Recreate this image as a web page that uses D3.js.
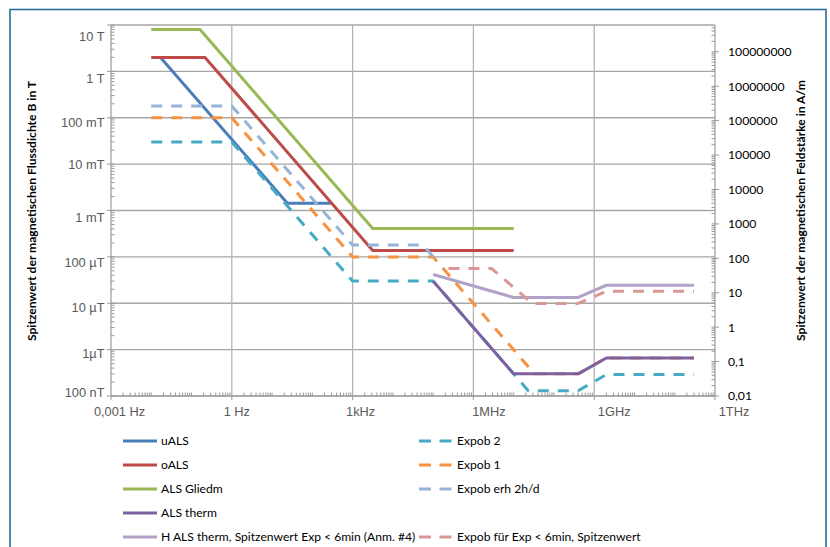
<!DOCTYPE html>
<html><head><meta charset="utf-8">
<script src="https://cdn.jsdelivr.net/npm/d3@7"></script>
<style>
html,body{margin:0;padding:0;background:#fff;}
svg{display:block;}
</style></head>
<body>
<svg id="c" width="830" height="547"></svg>
<script>
// ---------- DATA ----------
// frequencies in Hz, left-axis series in T, right-axis series in A/m
const uALS_f = [0.017, 24, 300];
const uALS_v = [2.0, 1.43e-3, 1.43e-3];
const oALS_f = [0.01, 0.216, 3160, 1e7];
const oALS_v = [2.0, 2.0, 1.37e-4, 1.37e-4];
const gliedm_f = [0.01, 0.162, 3160, 1e7];
const gliedm_v = [8.0, 8.0, 4.1e-4, 4.1e-4];
const therm_f = [1e5, 1e7, 4e8, 2e9, 3e11];
const therm_v = [3.0e-5, 3.0e-7, 3.0e-7, 6.6e-7, 6.6e-7];
const hTherm_f = [1e5, 1e7, 4e8, 2e9, 3e11];
const hTherm_v = [34, 7.3, 7.3, 16.5, 16.5];
const expob2_f = [0.01, 1, 1000, 1e5, 2.3e7, 4e8, 2e9, 3e11];
const expob2_v = [0.03, 0.03, 3.0e-5, 3.0e-5, 1.3e-7, 1.3e-7, 2.9e-7, 2.9e-7];
const expob1_f = [0.01, 1, 1000, 1e5, 3.3e7, 4e8, 2e9, 3e11];
const expob1_v = [0.1, 0.1, 1e-4, 1e-4, 3.0e-7, 3.0e-7, 6.6e-7, 6.6e-7];
const expobErh_f = [0.01, 1, 1000, 5.6e4, 1.3e5];
const expobErh_v = [0.18, 0.18, 1.8e-4, 1.8e-4, 7.8e-5];
const expobFuer_f = [2.4e5, 2.8e6, 2.9e7, 4e8, 2e9, 3e11];
const expobFuer_v = [51, 51, 4.9, 4.9, 11, 11];

const xTickVals = [1e-3, 1, 1e3, 1e6, 1e9, 1e12];
const xTickLabels = ["0,001 Hz", "1 Hz", "1kHz", "1MHz", "1GHz", "1THz"];
const yTickVals = [10, 1, 0.1, 0.01, 1e-3, 1e-4, 1e-5, 1e-6, 1e-7];
const yTickLabels = ["10 T", "1 T", "100 mT", "10 mT", "1 mT", "100 µT", "10 µT", "1µT", "100 nT"];
const y2TickVals = [1e8, 1e7, 1e6, 1e5, 1e4, 1e3, 100, 10, 1, 0.1, 0.01];
const y2TickLabels = ["100000000", "10000000", "1000000", "100000", "10000", "1000", "100", "10", "1", "0,1", "0,01"];

const leftTitle = "Spitzenwert der magnetischen Flussdichte B in T";
const rightTitle = "Spitzenwert der magnetischen Feldstärke in A/m";

// series definitions (drawing order)
const series = [
  {name: "uALS", f: uALS_f, v: uALS_v, axis: "L", color: "#4A7EBB", dash: null},
  {name: "Expob 2", f: expob2_f, v: expob2_v, axis: "L", color: "#46AAC5", dash: "11,9"},
  {name: "oALS", f: oALS_f, v: oALS_v, axis: "L", color: "#BE4B48", dash: null},
  {name: "Expob 1", f: expob1_f, v: expob1_v, axis: "L", color: "#F69240", dash: "11,9"},
  {name: "ALS Gliedm", f: gliedm_f, v: gliedm_v, axis: "L", color: "#98B954", dash: null},
  {name: "Expob erh 2h/d", f: expobErh_f, v: expobErh_v, axis: "L", color: "#95B3D7", dash: "11,9"},
  {name: "ALS therm", f: therm_f, v: therm_v, axis: "L", color: "#7D60A0", dash: null},
  {name: "H ALS therm, Spitzenwert Exp < 6min (Anm. #4)", f: hTherm_f, v: hTherm_v, axis: "R", color: "#B3A2C7", dash: null},
  {name: "Expob für Exp < 6min, Spitzenwert", f: expobFuer_f, v: expobFuer_v, axis: "R", color: "#D99795", dash: "11,9"}
];
const legendLeft = ["uALS", "oALS", "ALS Gliedm", "ALS therm", "H ALS therm, Spitzenwert Exp < 6min (Anm. #4)"];
const legendRight = ["Expob 2", "Expob 1", "Expob erh 2h/d", null, "Expob für Exp < 6min, Spitzenwert"];

// ---------- LAYOUT ----------
const svg = d3.select("#c");
const P = {l: 111, r: 715, t: 25, b: 396};
const x = d3.scaleLog().domain([1e-3, 1e12]).range([P.l, P.r]);
const y = d3.scaleLog().domain([1e-7, 10]).range([P.b, P.t]);
const y2 = d3.scaleLog().domain([0.01, 6e8]).range([P.b, P.t]);

const tickFont = "'Liberation Sans', Arial, sans-serif";
const textFont = "Lato, 'Open Sans', sans-serif";

svg.append("rect").attr("x", 10).attr("y", 9.5).attr("width", 816).attr("height", 560)
  .attr("fill", "none").attr("stroke", "#2A6C98").attr("stroke-width", 1.6);

const grid = svg.append("g");
yTickVals.forEach(v => {
  grid.append("line").attr("x1", P.l).attr("x2", P.r).attr("y1", y(v)).attr("y2", y(v))
    .attr("stroke", "#A6A6A6").attr("stroke-width", 1.3);
});
xTickVals.slice(1, -1).forEach(v => {
  grid.append("line").attr("x1", x(v)).attr("x2", x(v)).attr("y1", P.t).attr("y2", P.b)
    .attr("stroke", "#B4B4B4").attr("stroke-width", 1.3);
});

const ax = svg.append("g").attr("stroke", "#9A9A9A").attr("stroke-width", 1.2);
ax.append("line").attr("x1", P.l).attr("x2", P.l).attr("y1", P.t).attr("y2", P.b);
ax.append("line").attr("x1", P.l).attr("x2", P.r).attr("y1", P.b).attr("y2", P.b);
ax.append("line").attr("x1", P.r).attr("x2", P.r).attr("y1", P.t).attr("y2", P.b);

function minors(lo, hi) {
  const out = [];
  for (let e = Math.floor(Math.log10(lo)); e < Math.ceil(Math.log10(hi)); e++) {
    for (let k = 2; k <= 9; k++) {
      const v = k * Math.pow(10, e);
      if (v > lo && v < hi) out.push(v);
    }
  }
  return out;
}
const decades = (lo, hi) => { const o = []; for (let e = Math.round(Math.log10(lo)); e <= Math.round(Math.log10(hi)); e++) o.push(Math.pow(10, e)); return o; };

const tk = svg.append("g").attr("stroke", "#9A9A9A").attr("stroke-width", 1);
minors(1e-3, 1e12).concat(decades(1e-3, 1e12).filter(v => !xTickVals.includes(v))).forEach(v => {
  tk.append("line").attr("x1", x(v)).attr("x2", x(v)).attr("y1", P.b).attr("y2", P.b - 3.5);
});
xTickVals.forEach(v => {
  tk.append("line").attr("x1", x(v)).attr("x2", x(v)).attr("y1", P.b).attr("y2", P.b + 4);
});
minors(1e-7, 10).forEach(v => {
  tk.append("line").attr("x1", P.l).attr("x2", P.l + 3.5).attr("y1", y(v)).attr("y2", y(v));
});
yTickVals.forEach(v => {
  tk.append("line").attr("x1", P.l - 4).attr("x2", P.l + 3.5).attr("y1", y(v)).attr("y2", y(v));
});
minors(0.01, 6e8).forEach(v => {
  tk.append("line").attr("x1", P.r - 3.5).attr("x2", P.r).attr("y1", y2(v)).attr("y2", y2(v));
});
y2TickVals.forEach(v => {
  tk.append("line").attr("x1", P.r - 3.5).attr("x2", P.r + 4).attr("y1", y2(v)).attr("y2", y2(v));
});

const xNudge = [8.5, 5, 8, 15.5, 20, 19];
xTickVals.forEach((v, i) => {
  svg.append("text").attr("x", x(v) + xNudge[i]).attr("y", 416)
    .attr("text-anchor", "middle").attr("font-family", tickFont).attr("font-size", 12.8)
    .attr("fill", "#595959").text(xTickLabels[i]);
});
const yNudge = [11.5, 7.5, 4.5, 0.2, 6.8, 5.4, 4, 3.7, -3.3];
yTickVals.forEach((v, i) => {
  svg.append("text").attr("x", 104.5).attr("y", y(v) + yNudge[i]).attr("dy", "0.36em")
    .attr("text-anchor", "end").attr("font-family", tickFont).attr("font-size", 12.8)
    .attr("fill", "#595959").text(yTickLabels[i]);
});
y2TickVals.forEach((v, i) => {
  svg.append("text").attr("x", 728).attr("y", y2(v)).attr("dy", "0.36em")
    .attr("text-anchor", "start").attr("font-family", textFont).attr("font-size", 12.2)
    .attr("fill", "#000").text(y2TickLabels[i]);
});

svg.append("text").attr("transform", "translate(35.5,211) rotate(-90)")
  .attr("text-anchor", "middle").attr("font-family", textFont).attr("font-weight", "bold")
  .attr("font-size", 12.1).attr("fill", "#000").text(leftTitle);
svg.append("text").attr("transform", "translate(805,210.5) rotate(-90)")
  .attr("text-anchor", "middle").attr("font-family", textFont).attr("font-weight", "bold")
  .attr("font-size", 12.1).attr("fill", "#000").text(rightTitle);

const plot = svg.append("g");
series.forEach(s => {
  const ys = s.axis === "L" ? y : y2;
  const pts = s.f.map((f, i) => [f, s.v[i]]);
  const line = d3.line().x(d => x(d[0])).y(d => ys(d[1]));
  plot.append("path").attr("d", line(pts)).attr("fill", "none")
    .attr("stroke", s.color).attr("stroke-width", 3)
    .attr("stroke-linejoin", "round")
    .attr("stroke-dasharray", s.dash);
});

const byName = new Map(series.map(s => [s.name, s]));
const rowY = [441, 465, 489, 513, 537];
function legendCol(list, x0, x1, tx) {
  list.forEach((n, i) => {
    if (!n) return;
    const s = byName.get(n);
    svg.append("line").attr("x1", x0).attr("x2", x1).attr("y1", rowY[i]).attr("y2", rowY[i])
      .attr("stroke", s.color).attr("stroke-width", 3).attr("stroke-dasharray", s.dash ? "12,8.5" : null);
    svg.append("text").attr("x", tx).attr("y", rowY[i]).attr("dy", "0.36em")
      .attr("font-family", textFont).attr("font-size", 12.1).attr("fill", "#000").text(n);
  });
}
legendCol(legendLeft, 123, 157, 161);
legendCol(legendRight, 419, 452, 457);
</script>
</body></html>
